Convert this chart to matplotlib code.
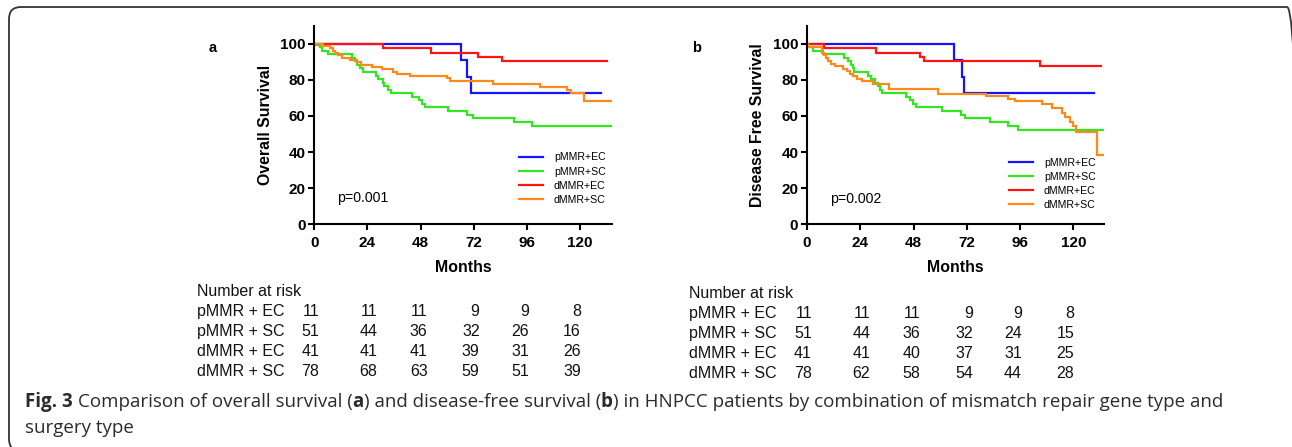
"""Fig. 3 – Kaplan-Meier curves (overall / disease-free survival) by MMR status
and surgery type, with number-at-risk tables.  Writes out.png."""

import matplotlib

matplotlib.use("Agg")
import matplotlib.pyplot as plt
from matplotlib import font_manager, transforms
from matplotlib.lines import Line2D
from matplotlib.patches import FancyBboxPatch

W, H = 1292, 447

GROUPS = ["pMMR+EC", "pMMR+SC", "dMMR+EC", "dMMR+SC"]
RISK_GROUPS = ["pMMR + EC", "pMMR + SC", "dMMR + EC", "dMMR + SC"]
COLORS = ["#1414ff", "#33e61f", "#ff1414", "#ff8a1a"]
RISK_TIMES = [0, 24, 48, 72, 96, 120]

# ---- panel a: overall survival (event month, survival % after event) ----
os_pmmr_ec_t = [0, 66.4, 68.8, 70.9, 129.5]
os_pmmr_ec_s = [100, 90.9, 81.8, 72.7, 72.7]
os_pmmr_sc_t = [0, 0.3, 2.6, 3.4, 6.3, 16.9, 18.2, 19.3, 20.7, 22.2, 27.9, 28.9,
                30.9, 31.6, 33.5, 34.5, 44.3, 47.1, 48.8, 50.2, 60.4, 68.8, 71.5,
                90.2, 98.6, 134.4]
os_pmmr_sc_s = [100, 99.4, 98.0, 96.1, 94.1, 92.2, 90.2, 88.2, 86.3, 84.3, 82.3,
                80.4, 78.4, 76.5, 74.5, 72.5, 70.6, 68.6, 66.7, 64.7, 62.7, 60.8,
                58.8, 56.5, 54.2, 54.2]
os_dmmr_ec_t = [0, 30.9, 52.6, 74.2, 84.8, 132.3]
os_dmmr_ec_s = [100, 97.6, 95.1, 92.7, 90.2, 90.2]
os_dmmr_sc_t = [0, 4.0, 7.1, 8.6, 9.4, 10.9, 12.4, 16.1, 19.1, 21.3, 25.9, 30.4,
                35.7, 37.2, 43.2, 59.8, 61.3, 80.8, 101.9, 114.3, 116.2, 121.8,
                134.4]
os_dmmr_sc_s = [100, 98.7, 97.4, 96.2, 94.9, 93.6, 92.3, 91.0, 89.7, 88.5, 87.2,
                85.9, 84.6, 83.3, 82.1, 80.8, 79.5, 77.9, 76.2, 74.5, 72.6, 68.2,
                68.2]

# ---- panel b: disease-free survival ----
dfs_pmmr_ec_t = [0, 66.2, 69.7, 70.7, 129.5]
dfs_pmmr_ec_s = [100, 90.9, 81.8, 72.7, 72.7]
dfs_pmmr_sc_t = [0, 0.3, 2.9, 7.1, 16.7, 18.6, 19.6, 20.6, 21.2, 27.6, 28.7, 30.6,
                 31.9, 32.9, 33.6, 44.6, 46.4, 47.9, 49.1, 60.7, 69.4, 71.2, 82.5,
                 90.7, 95.2, 134.0]
dfs_pmmr_sc_s = [100, 98.0, 96.1, 94.1, 92.2, 90.2, 88.2, 86.3, 84.3, 82.3, 80.4,
                 78.4, 76.5, 74.5, 72.5, 70.6, 68.6, 66.7, 64.7, 62.7, 60.8, 58.8,
                 56.6, 54.4, 52.3, 52.3]
dfs_dmmr_ec_t = [0, 7.7, 31.1, 50.9, 52.9, 105.0, 132.3]
dfs_dmmr_ec_s = [100, 97.6, 95.1, 92.7, 90.2, 87.8, 87.8]
dfs_dmmr_sc_t = [0, 0.3, 6.6, 7.7, 8.6, 9.3, 10.7, 12.6, 16.4, 18.2, 19.5, 20.9,
                 22.7, 24.6, 29.9, 36.9, 59.2, 80.7, 90.7, 93.7, 105.7, 110.2,
                 114.7, 116.3, 118.5, 120.0, 121.2, 130.5, 134.3]
dfs_dmmr_sc_s = [100, 98.0, 95.0, 93.5, 92.0, 90.6, 89.0, 87.6, 86.2, 84.8, 83.5,
                 82.0, 80.6, 79.3, 77.9, 75.0, 72.3, 71.0, 69.6, 68.2, 66.8, 64.3,
                 61.5, 59.5, 56.5, 54.4, 51.3, 38.5, 38.5]

# ---- number at risk ----
os_risk = [[11, 11, 11, 9, 9, 8],
           [51, 44, 36, 32, 26, 16],
           [41, 41, 41, 39, 31, 26],
           [78, 68, 63, 59, 51, 39]]
dfs_risk = [[11, 11, 11, 9, 9, 8],
            [51, 44, 36, 32, 24, 15],
            [41, 41, 40, 37, 31, 25],
            [78, 62, 58, 54, 44, 28]]

plt.rcParams["font.family"] = ["Liberation Sans", "DejaVu Sans"]


def fx(px):
    return px / W


def fy(py):
    return 1 - py / H


fig = plt.figure(figsize=(W / 100, H / 100), dpi=100)
fig.patch.set_facecolor("white")

# rounded frame around the whole figure
frame = FancyBboxPatch((9, -4), 1290, 444, boxstyle="round,pad=0,rounding_size=12",
                       transform=transforms.IdentityTransform(), fill=False,
                       lw=1.3, ec="#333333")
fig.patches.append(frame)

panels = [
    dict(left=314.3, right=611.7, xmax=134.4, letter="a", letter_xy=(213, 48.5),
         ylabel="Overall Survival", pval="p=0.001", p_xy=(336.7, 202.5),
         leg_xy=(519, 152.5), risk=os_risk, risk_x=197.3, risk_y0=296,
         curves=[(os_pmmr_ec_t, os_pmmr_ec_s), (os_pmmr_sc_t, os_pmmr_sc_s),
                 (os_dmmr_ec_t, os_dmmr_ec_s), (os_dmmr_sc_t, os_dmmr_sc_s)]),
    dict(left=807.0, right=1104.0, xmax=133.8, letter="b", letter_xy=(697, 47.5),
         ylabel="Disease Free Survival", pval="p=0.002", p_xy=(830, 203.3),
         leg_xy=(1009, 157.5), risk=dfs_risk, risk_x=689, risk_y0=297.5,
         curves=[(dfs_pmmr_ec_t, dfs_pmmr_ec_s), (dfs_pmmr_sc_t, dfs_pmmr_sc_s),
                 (dfs_dmmr_ec_t, dfs_dmmr_ec_s), (dfs_dmmr_sc_t, dfs_dmmr_sc_s)]),
]

top_px, bot_px = 25.7, 224.3
col_dx = [5, 10, 7, 6, 2, 1]  # nudges of the risk-table columns, pixels

for p in panels:
    span = p["right"] - p["left"]
    ax = fig.add_axes([fx(p["left"]), fy(bot_px), span / W, (bot_px - top_px) / H])
    for (t, s), c in zip(p["curves"], COLORS):
        ax.step(t, s, where="post", color=c, lw=1.6, solid_joinstyle="miter")
    ax.set_xlim(0, p["xmax"])
    ax.set_ylim(0, 110)
    ax.set_xticks(RISK_TIMES)
    ax.set_yticks([0, 20, 40, 60, 80, 100])
    for side in ("top", "right"):
        ax.spines[side].set_visible(False)
    for side in ("left", "bottom"):
        ax.spines[side].set_linewidth(1.5)
    ax.tick_params(direction="out", length=4.3, width=1.5, labelsize=11)
    ax.tick_params(axis="x", pad=4)
    ax.tick_params(axis="y", pad=2)
    for lab in ax.get_xticklabels() + ax.get_yticklabels():
        lab.set_fontweight("bold")
    ax.set_xlabel("Months", fontsize=11.4, fontweight="bold", va="top")
    ax.xaxis.set_label_coords(0.5, -(260 - bot_px) / (bot_px - top_px))
    ax.set_ylabel(p["ylabel"], fontsize=11.4, fontweight="bold")
    ax.yaxis.set_label_coords(-41.5 / span, 0.5)

    handles = [Line2D([], [], color=c, lw=1.6) for c in COLORS]
    ax.legend(handles, GROUPS, loc="upper left",
              bbox_to_anchor=(fx(p["leg_xy"][0]), fy(p["leg_xy"][1])),
              bbox_transform=fig.transFigure, frameon=False, fontsize=7.6,
              handlelength=2.3, handletextpad=1.0, labelspacing=0.38,
              borderpad=0, borderaxespad=0)

    fig.text(fx(p["p_xy"][0]), fy(p["p_xy"][1]), p["pval"], fontsize=10.2,
             va="baseline", ha="left")
    fig.text(fx(p["letter_xy"][0]), fy(p["letter_xy"][1]), p["letter"],
             fontsize=10.5, fontweight="bold", ha="center", va="center")

    # number-at-risk table
    y0 = p["risk_y0"]
    fig.text(fx(p["risk_x"]), fy(y0), "Number at risk", fontsize=11.5,
             va="baseline", ha="left", color="#111111")
    blend = transforms.blended_transform_factory(ax.transData, fig.transFigure)
    for i, (name, row) in enumerate(zip(RISK_GROUPS, p["risk"])):
        yb = y0 + 20.1 * (i + 1)
        fig.text(fx(p["risk_x"]), fy(yb), name, fontsize=11.5, va="baseline",
                 ha="left", color="#111111")
        for j, (tm, n) in enumerate(zip(RISK_TIMES, row)):
            tr = transforms.offset_copy(blend, fig=fig, x=col_dx[j], y=0,
                                        units="dots")
            fig.text(tm, fy(yb), str(n), transform=tr, fontsize=11.5,
                     va="baseline", ha="right", color="#111111")

# ---- caption ----
cap_fonts = ["Liberation Sans Narrow", "Open Sans", "DejaVu Sans"]
cap_font = "DejaVu Sans"
for name in cap_fonts:
    try:
        font_manager.findfont(name, fallback_to_default=False)
        cap_font = name
        break
    except ValueError:
        continue

line1 = [("Fig. 3", True), (" Comparison of overall survival (", False), ("a", True),
         (") and disease-free survival (", False), ("b", True),
         (") in HNPCC patients by combination of mismatch repair gene type and", False)]
line2 = [("surgery type", False)]
renderer = fig.canvas.get_renderer()


def draw_line(pieces, x0, yb, size):
    made = []
    probe = fig.text(0, 0, "a a", fontsize=size, family=cap_font)
    w2 = probe.get_window_extent(renderer).width
    probe.set_text("aa")
    space_w = w2 - probe.get_window_extent(renderer).width
    probe.remove()
    x = x0
    for txt, bold in pieces:
        if txt.startswith(" "):
            x += space_w
        t = fig.text(fx(x), fy(yb), txt.strip(), fontsize=size, family=cap_font,
                     fontweight="bold" if bold else "normal", color="#2b2b2b",
                     va="baseline", ha="left")
        made.append(t)
        x = t.get_window_extent(renderer).x1
    return made, x - x0


size = 12.0
made, width = draw_line(line1, 25, 407.3, size)
for t in made:
    t.remove()
size = size * 1192 / width
draw_line(line1, 25, 407.3, size)
draw_line(line2, 25, 433.3, size)

fig.savefig("out.png", dpi=100, facecolor="white")
